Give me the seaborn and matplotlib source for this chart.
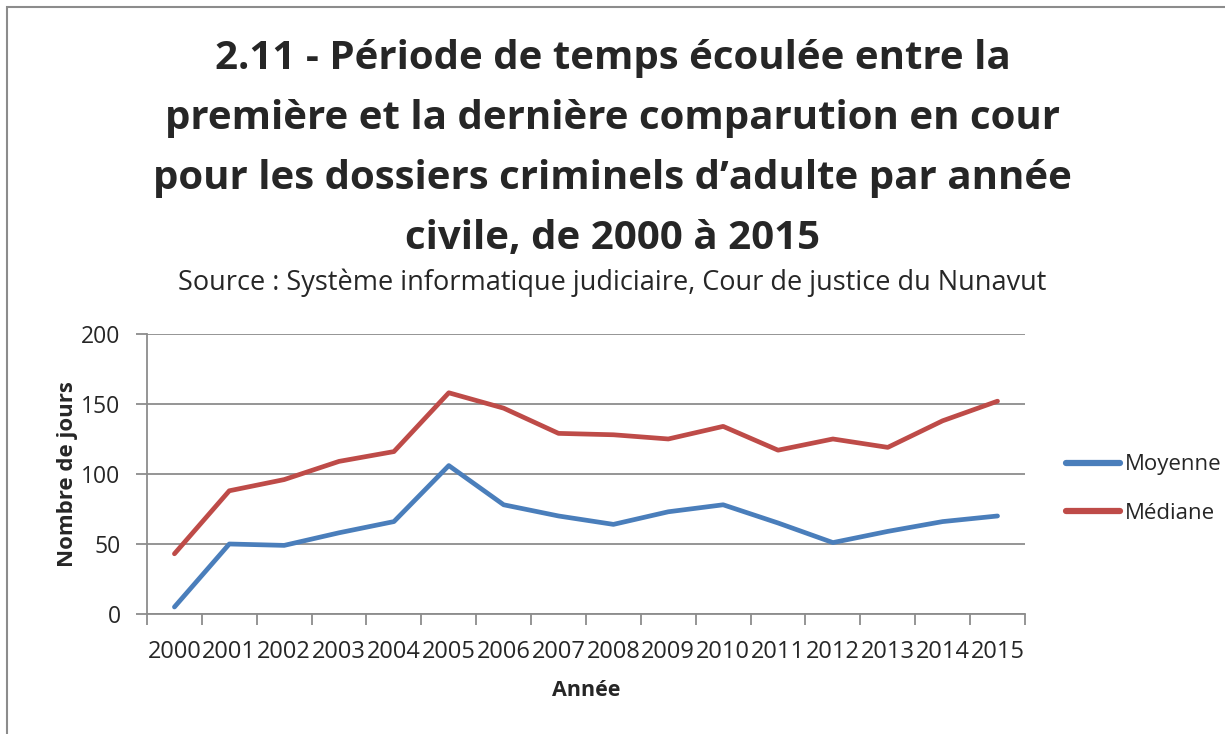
import pandas as pd
import matplotlib.pyplot as plt
import seaborn as sns
from matplotlib.patches import Rectangle

sns.set_theme(style="white")
plt.rcParams["font.family"] = ["Open Sans", "DejaVu Sans"]

# data
years = [str(y) for y in range(2000, 2016)]
moyenne = [5, 50, 49, 58, 66, 106, 78, 70, 64, 73, 78, 65, 51, 59, 66, 70]
mediane = [43, 88, 96, 109, 116, 158, 147, 129, 128, 125, 134, 117, 125, 119, 138, 152]
series_names = ["Moyenne", "Médiane"]
colors = ["#4A7EBB", "#BE4B48"]

df = pd.DataFrame({
    "Année": years * 2,
    "Jours": moyenne + mediane,
    "Série": [series_names[0]] * len(years) + [series_names[1]] * len(years),
})

fig = plt.figure(figsize=(12.25, 7.34), dpi=100)
ax = fig.add_axes([0.12, 0.1635, 0.7167, 0.3815])

sns.lineplot(data=df, x="Année", y="Jours", hue="Série", palette=colors,
             linewidth=3.4, ax=ax, sort=False, solid_capstyle="round")

ax.set_xlim(-0.5, len(years) - 0.5)
ax.set_ylim(0, 200)
ax.set_yticks([0, 50, 100, 150, 200])
ax.yaxis.grid(True, color="#8c8c8c", linewidth=1.3)
ax.xaxis.grid(False)
ax.set_axisbelow(True)

# category axis: labels centred, tick marks between categories
ax.set_xticks(range(len(years)))
ax.set_xticklabels(years)
ax.set_xticks([i - 0.5 for i in range(len(years) + 1)], minor=True)
ax.tick_params(axis="x", which="major", length=0, pad=19, labelsize=17)
ax.tick_params(axis="x", which="minor", length=8, width=1.3, color="#8c8c8c",
               direction="out", bottom=True)
ax.tick_params(axis="y", length=8, width=1.3, color="#8c8c8c", direction="out",
               left=True, labelsize=16.5, pad=11)

for side in ["top", "right"]:
    ax.spines[side].set_visible(False)
for side in ["left", "bottom"]:
    ax.spines[side].set_color("#8c8c8c")
    ax.spines[side].set_linewidth(1.3)

ax.set_xlabel("Année", fontsize=15.5, fontweight="bold", labelpad=11)
ax.set_ylabel("Nombre de jours", fontsize=16, fontweight="bold", labelpad=2)

leg = ax.legend(loc="upper left", bbox_to_anchor=(1.0467, 0.57), frameon=False,
                fontsize=16, handlelength=2.45, handletextpad=0.2,
                labelspacing=1.25, borderaxespad=0, borderpad=0)
for line in leg.get_lines():
    line.set_linewidth(4.5)

fig.text(0.5, 0.7977,
         "2.11 - Période de temps écoulée entre la\n"
         "première et la dernière comparution en cour\n"
         "pour les dossiers criminels d’adulte par année\n"
         "civile, de 2000 à 2015",
         ha="center", va="center", fontsize=29, fontweight="bold",
         linespacing=1.7)
fig.text(0.5, 0.615,
         "Source : Système informatique judiciaire, Cour de justice du Nunavut",
         ha="center", va="center", fontsize=19.5)

fig.add_artist(Rectangle((7 / 1225, -0.1), 1.2, 1.1 - 7 / 734,
                         transform=fig.transFigure, fill=False,
                         edgecolor="#8c8c8c", linewidth=1.5))

fig.savefig("out.png", dpi=100)
plt.close(fig)
